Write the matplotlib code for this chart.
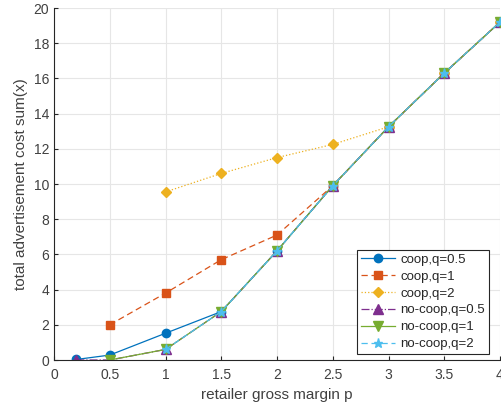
import matplotlib
matplotlib.use("Agg")
import matplotlib.pyplot as plt

plt.rcParams['font.family'] = ['Liberation Sans', 'DejaVu Sans']

p_all = [0.2, 0.5, 1, 1.5, 2, 2.5, 3, 3.5, 4]
coop_q05 = [0.03, 0.28, 1.52, 2.75, 6.2, 9.9, 13.25, 16.3, 19.2]

p_q1 = [0.5, 1, 1.5, 2, 2.5, 3, 3.5, 4]
coop_q1 = [2.0, 3.8, 5.7, 7.1, 9.9, 13.25, 16.3, 19.2]

p_q2 = [1, 1.5, 2, 2.5, 3, 3.5, 4]
coop_q2 = [9.55, 10.6, 11.5, 12.25, 13.25, 16.3, 19.2]

nocoop_q05 = [0.0, 0.0, 0.6, 2.75, 6.2, 9.9, 13.25, 16.3, 19.2]
nocoop_q1 = [0.0, 0.6, 2.75, 6.2, 9.9, 13.25, 16.3, 19.2]
nocoop_q2 = [0.6, 2.75, 6.2, 9.9, 13.25, 16.3, 19.2]

labels = ['coop,q=0.5', 'coop,q=1', 'coop,q=2',
          'no-coop,q=0.5', 'no-coop,q=1', 'no-coop,q=2']

fig = plt.figure(figsize=(5.01, 4.11), dpi=100)
ax = fig.add_axes([54/501, 1 - 360/411, 446/501, 352/411])

lw = 0.9
ax.plot(p_all, coop_q05, '-', color='#0072BD', marker='o', ms=6, lw=lw, label=labels[0])
ax.plot(p_q1, coop_q1, '--', color='#D95319', marker='s', ms=5.5, lw=lw, label=labels[1], dashes=(5, 3))
ax.plot(p_q2, coop_q2, ':', color='#EDB120', marker='D', ms=5.5, lw=lw, label=labels[2])
ax.plot(p_all, nocoop_q05, '-.', color='#7E2F8E', marker='^', ms=6.5, lw=lw, label=labels[3])
ax.plot(p_q1, nocoop_q1, '-', color='#77AC30', marker='v', ms=6.5, lw=lw, label=labels[4])
ax.plot(p_q2, nocoop_q2, '--', color='#4DBEEE', marker='*', ms=6.5, lw=lw, label=labels[5], dashes=(5, 3))

ax.set_xlim(0, 4)
ax.set_ylim(0, 20)
ax.set_xticks([0, 0.5, 1, 1.5, 2, 2.5, 3, 3.5, 4])
ax.set_xticklabels(['0', '0.5', '1', '1.5', '2', '2.5', '3', '3.5', '4'])
ax.set_yticks(range(0, 21, 2))
ax.grid(True, color='#e6e6e6', lw=0.8)
ax.set_axisbelow(True)
for s in ['top', 'right']:
    ax.spines[s].set_visible(False)
for s in ['left', 'bottom']:
    ax.spines[s].set_color('#262626')
    ax.spines[s].set_linewidth(0.8)
ax.tick_params(direction='in', length=3, labelsize=10, colors='#262626', labelcolor='#404040')
ax.tick_params(axis='x', pad=6)
ax.set_xlabel('retailer gross margin p', fontsize=11, color='#404040', labelpad=4)
ax.set_ylabel('total advertisement cost sum(x)', fontsize=11, color='#404040', labelpad=4)

leg = ax.legend(loc='lower right', fontsize=9.5, frameon=True, fancybox=False,
                edgecolor='#262626', framealpha=1, handlelength=2.6,
                borderpad=0.3, labelspacing=0.35, handletextpad=0.4,
                bbox_to_anchor=(0.99, -0.002))
leg.get_frame().set_linewidth(0.8)
for t in leg.get_texts():
    t.set_color('#262626')

fig.savefig('out.png', dpi=100)
